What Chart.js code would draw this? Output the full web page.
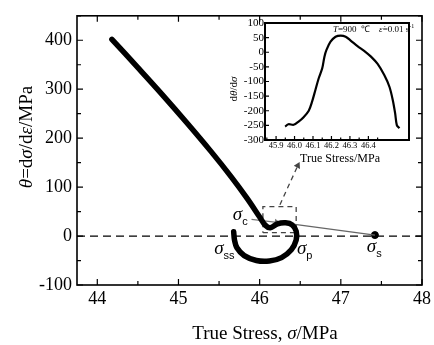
<!DOCTYPE html>
<html>
<head>
<meta charset="utf-8">
<script src="https://cdn.jsdelivr.net/npm/chart.js@4.4.1/dist/chart.umd.min.js"></script>
<style>
body { margin: 0; background: #fff; }
#wrap { position: relative; width: 434px; height: 345px; }
#main { position: absolute; left: 0; top: 0; }
#inset { position: absolute; left: 215px; top: 10px; }
</style>
</head>
<body>
<div id="wrap">
  <canvas id="main" width="434" height="345"></canvas>
  <canvas id="inset" width="205" height="160"></canvas>
</div>
<script>
// main curve: theta = dσ/dε vs true stress
const curveX = [44.18, 44.50, 44.80, 45.10, 45.40, 45.65, 45.85, 46.00, 46.07, 46.13, 46.22, 46.32, 46.40, 46.45, 46.45, 46.39, 46.27, 46.12, 45.96, 45.81, 45.72, 45.69, 45.68];
const curveY = [402, 344, 289, 232, 173, 121, 76, 39, 22, 17, 25, 27, 23, 10, -8, -28, -44, -51, -50, -40, -24, -8, 9];
const sigmaS = { x: 47.42, y: 2 };
const mainXTicks = [44, 45, 46, 47, 48];
const mainYTicks = [-100, 0, 100, 200, 300, 400];

// inset: dθ/dσ vs true stress
const insetX = [45.949, 45.967, 45.995, 46.022, 46.049, 46.077, 46.095, 46.113, 46.131, 46.150, 46.162, 46.173, 46.195, 46.222, 46.250, 46.277, 46.304, 46.341, 46.377, 46.414, 46.450, 46.486, 46.514, 46.532, 46.545, 46.554, 46.568];
const insetY = [-254, -246, -248, -237, -222, -200, -169, -129, -89, -55, -15, 8, 36, 53, 57, 53, 40, 21, 5, -15, -40, -78, -118, -163, -209, -249, -260];
const insetXTicks = [45.9, 46.0, 46.1, 46.2, 46.3, 46.4];
const insetYTicks = [100, 50, 0, -50, -100, -150, -200, -250, -300];

const SERIF = '"Liberation Serif", "Times New Roman", serif';
const SANS = '"Liberation Sans", Arial, sans-serif';

// draw text pieces with mixed italic / sizes
function richText(ctx, x, y, parts, align, rot) {
    ctx.save();
    ctx.translate(x, y);
    if (rot) ctx.rotate(rot);
    ctx.textBaseline = 'alphabetic';
    ctx.textAlign = 'left';
    ctx.fillStyle = '#000';
    let total = 0;
    parts.forEach(p => {
        p.font = (p.i ? 'italic ' : '') + p.s + 'px ' + (p.f || SERIF);
        ctx.font = p.font;
        p.w = ctx.measureText(p.t).width;
        total += p.w;
    });
    let cx = align === 'center' ? -total / 2 : 0;
    parts.forEach(p => {
        ctx.font = p.font;
        ctx.fillText(p.t, cx, p.dy || 0);
        cx += p.w;
    });
    ctx.restore();
}

// frame + inward ticks
function drawFrame(chart, major, minor, lw, full) {
    const ctx = chart.ctx;
    const a = chart.chartArea;
    const xs = chart.scales.x, ys = chart.scales.y;
    ctx.save();
    ctx.strokeStyle = '#000';
    ctx.lineWidth = lw;
    ctx.strokeRect(a.left, a.top, a.right - a.left, a.bottom - a.top);
    ctx.lineWidth = 1.2;
    const mk = (vals) => {
        const out = [];
        const st = vals[1] - vals[0];
        vals.forEach(v => out.push([v, major]));
        for (let v = vals[0] - st / 2; v < vals[vals.length - 1] + st; v += st) out.push([v, minor]);
        return out;
    };
    ctx.beginPath();
    mk(xs.ticks.map(t => t.value)).forEach(([v, len]) => {
        const px = xs.getPixelForValue(v);
        if (px < a.left - 0.5 || px > a.right + 0.5) return;
        ctx.moveTo(px, a.bottom); ctx.lineTo(px, a.bottom - len);
        if (full) { ctx.moveTo(px, a.top); ctx.lineTo(px, a.top + len); }
    });
    mk(ys.ticks.map(t => t.value)).forEach(([v, len]) => {
        const py = ys.getPixelForValue(v);
        if (py < a.top - 0.5 || py > a.bottom + 0.5) return;
        ctx.moveTo(a.left, py); ctx.lineTo(a.left + len, py);
        if (full) { ctx.moveTo(a.right, py); ctx.lineTo(a.right - len, py); }
    });
    ctx.stroke();
    ctx.restore();
}

const mainPlugin = {
    id: 'mainDecor',
    afterDraw(chart) {
        const ctx = chart.ctx;
        const xs = chart.scales.x, ys = chart.scales.y;
        drawFrame(chart, 6, 4, 1.6, true);
        // axis titles
        richText(ctx, 265, 339, [
            { t: 'True Stress, ', s: 19 },
            { t: 'σ', s: 19, i: true },
            { t: '/MPa', s: 19 }
        ], 'center');
        richText(ctx, 32, 137, [
            { t: 'θ', s: 19, i: true },
            { t: '=d', s: 19 },
            { t: 'σ', s: 19, i: true },
            { t: '/d', s: 19 },
            { t: 'ε', s: 19, i: true },
            { t: '/MPa', s: 19 }
        ], 'center', -Math.PI / 2);
        // stress labels
        const lab = (x, y, sub) => richText(ctx, xs.getPixelForValue(x), ys.getPixelForValue(y), [
            { t: 'σ', s: 19, i: true },
            { t: sub, s: 11, f: SANS, dy: 5 }
        ], 'left');
        lab(45.67, 32, 'c');
        lab(45.44, -36, 'ss');
        lab(46.46, -36, 'p');
        lab(47.32, -32, 's');
    }
};

const insetPlugin = {
    id: 'insetDecor',
    afterDraw(chart) {
        const ctx = chart.ctx;
        drawFrame(chart, 4, 2.5, 2, false);
        richText(ctx, 125, 152, [{ t: 'True Stress/MPa', s: 12 }], 'center');
        richText(ctx, 22, 79, [
            { t: 'd', s: 11 },
            { t: 'θ', s: 11, i: true },
            { t: '/d', s: 11 },
            { t: 'σ', s: 11, i: true }
        ], 'center', -Math.PI / 2);
        richText(ctx, 118, 22, [
            { t: 'T', s: 9, i: true },
            { t: '=900  ℃    ', s: 9 },
            { t: 'ε̇', s: 9, i: true },
            { t: '=0.01 s', s: 9 },
            { t: '-1', s: 6, dy: -4 }
        ], 'left');
    }
};

const fixTicks = (arr) => (scale) => { scale.ticks = arr.map(v => ({ value: v })); };

const mainChart = new Chart(document.getElementById('main'), {
    type: 'scatter',
    data: {
        datasets: [
            {
                data: curveX.map((x, i) => ({ x: x, y: curveY[i] })),
                showLine: true,
                borderColor: '#000',
                borderWidth: 5.5,
                borderCapStyle: 'round',
                borderJoinStyle: 'round',
                pointRadius: 0,
                tension: 0.3
            },
            {
                data: [{ x: 43.75, y: 0 }, { x: 48, y: 0 }],
                showLine: true,
                borderColor: '#000',
                borderWidth: 1.3,
                borderDash: [8, 5],
                pointRadius: 0
            },
            {
                data: [{ x: 46.04, y: 7 }, { x: 46.45, y: 7 }, { x: 46.45, y: 60 }, { x: 46.04, y: 60 }, { x: 46.04, y: 7 }],
                showLine: true,
                borderColor: '#444',
                borderWidth: 1.3,
                borderDash: [5, 4],
                pointRadius: 0
            },
            {
                data: [{ x: 46.25, y: 64 }, { x: 46.47, y: 144 }],
                showLine: true,
                borderColor: '#444',
                backgroundColor: '#444',
                borderWidth: 1.3,
                borderDash: [5, 4],
                pointStyle: 'triangle',
                pointRadius: [0, 4],
                pointRotation: [0, 27],
                pointBorderWidth: 0
            },
            {
                data: [{ x: 45.90, y: 34 }, { x: 46.21, y: 28 }],
                showLine: true,
                borderColor: '#777',
                backgroundColor: '#777',
                borderWidth: 1.3,
                pointStyle: 'triangle',
                pointRadius: [0, 4],
                pointRotation: [0, 97],
                pointBorderWidth: 0
            },
            {
                data: [{ x: 46.25, y: 28 }, sigmaS],
                showLine: true,
                borderColor: '#666',
                borderWidth: 1.3,
                pointRadius: 0
            },
            {
                data: [sigmaS],
                backgroundColor: '#000',
                borderColor: '#000',
                pointRadius: 3.5
            }
        ]
    },
    options: {
        responsive: false,
        animation: false,
        devicePixelRatio: 1,
        layout: { padding: { top: 10, right: 11, left: 0, bottom: 0 } },
        plugins: { legend: { display: false }, tooltip: { enabled: false } },
        scales: {
            x: {
                type: 'linear',
                min: 43.75,
                max: 48,
                afterBuildTicks: fixTicks(mainXTicks),
                afterFit: (s) => { s.height = 60; },
                grid: { display: false, drawTicks: false },
                border: { display: false },
                ticks: { color: '#000', padding: 3, autoSkip: false, font: { family: SERIF, size: 18 } }
            },
            y: {
                type: 'linear',
                min: -100,
                max: 450,
                afterBuildTicks: fixTicks(mainYTicks),
                afterFit: (s) => { s.width = 77; },
                grid: { display: false, drawTicks: false },
                border: { display: false },
                ticks: { color: '#000', padding: 5, autoSkip: false, font: { family: SERIF, size: 18 } }
            }
        }
    },
    plugins: [mainPlugin]
});

const insetChart = new Chart(document.getElementById('inset'), {
    type: 'scatter',
    data: {
        datasets: [{
            data: insetX.map((x, i) => ({ x: x, y: insetY[i] })),
            showLine: true,
            borderColor: '#000',
            borderWidth: 2.2,
            pointRadius: 0,
            tension: 0.3
        }]
    },
    options: {
        responsive: false,
        animation: false,
        devicePixelRatio: 1,
        layout: { padding: { top: 13, right: 11, left: 0, bottom: 0 } },
        plugins: { legend: { display: false }, tooltip: { enabled: false } },
        scales: {
            x: {
                type: 'linear',
                min: 45.84,
                max: 46.62,
                afterBuildTicks: fixTicks(insetXTicks),
                afterFit: (s) => { s.height = 30; },
                grid: { display: false, drawTicks: false },
                border: { display: false },
                ticks: { color: '#000', padding: 1, autoSkip: false, maxRotation: 0, font: { family: SERIF, size: 8.5 }, callback: (v) => v.toFixed(1) }
            },
            y: {
                type: 'linear',
                min: -300,
                max: 100,
                afterBuildTicks: fixTicks(insetYTicks),
                afterFit: (s) => { s.width = 50; },
                grid: { display: false, drawTicks: false },
                border: { display: false },
                ticks: { color: '#000', padding: 1, autoSkip: false, font: { family: SERIF, size: 11 } }
            }
        }
    },
    plugins: [insetPlugin]
});
</script>
</body>
</html>
